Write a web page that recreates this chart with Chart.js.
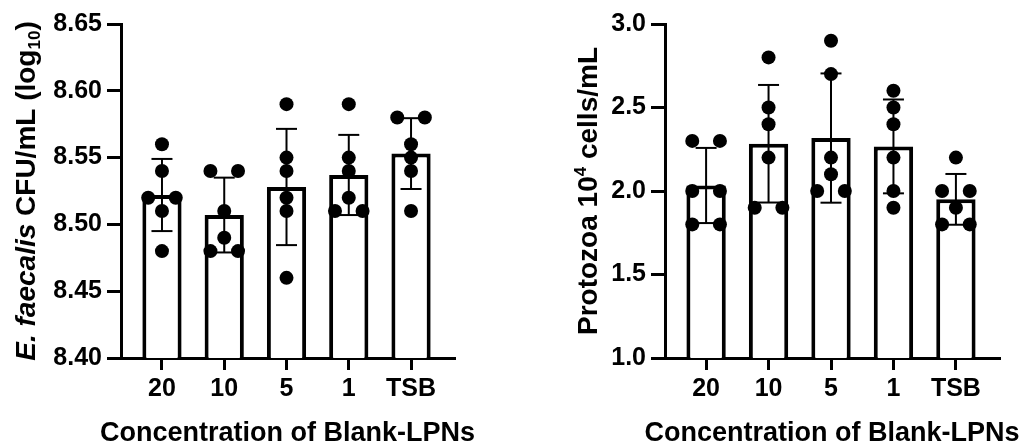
<!DOCTYPE html>
<html><head><meta charset="utf-8">
<script src="https://cdn.jsdelivr.net/npm/chart.js@4.4.1/dist/chart.umd.min.js"></script>
<style>
html,body{margin:0;padding:0;background:#fff;}
#wrap{position:relative;width:1022px;height:444px;overflow:hidden;}
.box{position:absolute;top:0;width:511px;height:444px;}
</style></head><body>
<div id="wrap">
<div class="box" style="left:0"><canvas id="c1" width="511" height="444"></canvas></div>
<div class="box" style="left:511px"><canvas id="c2" width="511" height="444"></canvas></div>
</div>
<script>
// ---------- data ----------
const categories = ['20', '10', '5', '1', 'TSB'];

const efMeans = [8.522, 8.507, 8.528, 8.537, 8.553];
const efSD    = [0.027, 0.028, 0.0435, 0.030, 0.0265];
const efPoints = [
  [8.56, 8.54, 8.52, 8.52, 8.51, 8.48],
  [8.54, 8.54, 8.51, 8.49, 8.48, 8.48],
  [8.59, 8.55, 8.54, 8.52, 8.51, 8.46],
  [8.59, 8.55, 8.54, 8.52, 8.51, 8.51],
  [8.58, 8.58, 8.56, 8.55, 8.54, 8.51]
];
const efTicks = [8.40, 8.45, 8.50, 8.55, 8.60, 8.65];

const protoMeans = [2.033, 2.283, 2.317, 2.267, 1.95];
const protoSD    = [0.225, 0.352, 0.387, 0.281, 0.152];
const protoPoints = [
  [2.3, 2.3, 2.0, 2.0, 1.8, 1.8],
  [2.8, 2.5, 2.4, 2.2, 1.9, 1.9],
  [2.9, 2.7, 2.2, 2.1, 2.0, 2.0],
  [2.6, 2.5, 2.4, 2.2, 2.0, 1.9],
  [2.2, 2.0, 2.0, 1.9, 1.8, 1.8]
];
const protoTicks = [1.0, 1.5, 2.0, 2.5, 3.0];

const xTitle = 'Concentration of Blank-LPNs';

// ---------- helpers ----------
const FAM = '"Liberation Sans", Arial, Helvetica, sans-serif';
const SPREAD = 0.2215; // horizontal spread of tied points, in category units

function spreadDots(points) {
  const out = [];
  points.forEach((vals, i) => {
    const counts = {}, seen = {};
    vals.forEach(v => counts[v] = (counts[v] || 0) + 1);
    vals.forEach(v => {
      const k = counts[v], j = seen[v] || 0;
      seen[v] = j + 1;
      const off = k === 1 ? 0 : (j - (k - 1) / 2) * 2 * SPREAD;
      out.push({x: i + off, y: v});
    });
  });
  return out;
}

// axis titles drawn as canvas text (mixed italic / sub- / superscript)
function titlesPlugin(yX, yParts, xBaseline, xText) {
  return {
    id: 'axisTitles',
    afterDraw(chart) {
      const ctx = chart.ctx, a = chart.chartArea;
      ctx.save();
      ctx.fillStyle = '#000';
      ctx.textBaseline = 'alphabetic';
      // x title
      ctx.textAlign = 'center';
      ctx.font = 'bold 27px ' + FAM;
      ctx.fillText(xText, (a.left + a.right) / 2, xBaseline);
      // y title
      ctx.textAlign = 'left';
      ctx.translate(yX, (a.top + a.bottom) / 2);
      ctx.rotate(-Math.PI / 2);
      const widths = yParts.map(p => { ctx.font = p.font; return ctx.measureText(p.text).width; });
      let cur = -widths.reduce((s, w) => s + w, 0) / 2;
      yParts.forEach((p, i) => { ctx.font = p.font; ctx.fillText(p.text, cur, p.dy || 0); cur += widths[i]; });
      ctx.restore();
    }
  };
}

function makeChart(id, means, sd, points, ticks, dec, yWidth, padRight, plugin) {
  const dots = spreadDots(points);
  const caps = [];
  means.forEach((m, i) => { caps.push({x: i, y: m + sd[i]}); caps.push({x: i, y: m - sd[i]}); });
  const errs = means.map((m, i) => ({x: i, y: [m - sd[i], m + sd[i]]}));
  const bars = means.map((m, i) => ({x: i, y: m}));

  return new Chart(document.getElementById(id), {
    type: 'bar',
    data: {
      datasets: [
        {type: 'scatter', data: dots, pointRadius: 7, pointHoverRadius: 7,
         backgroundColor: '#000', borderColor: '#000', borderWidth: 0, order: 0},
        {type: 'scatter', data: caps, pointStyle: 'line', pointRadius: 10.5, pointHoverRadius: 10.5,
         borderColor: '#000', borderWidth: 2, order: 1},
        {type: 'bar', data: errs, grouped: false, maxBarThickness: 2,
         backgroundColor: '#000', borderWidth: 0, order: 2},
        {type: 'bar', data: bars, grouped: false, barPercentage: 0.63, categoryPercentage: 1,
         backgroundColor: '#fff', borderColor: '#000', borderWidth: 4, order: 3}
      ]
    },
    options: {
      responsive: false,
      animation: false,
      devicePixelRatio: 1,
      events: [],
      layout: {padding: {left: 0, right: padRight, top: 24, bottom: 0}},
      plugins: {legend: {display: false}, tooltip: {enabled: false}},
      scales: {
        x: {
          type: 'linear', min: -0.658, max: 4.69, offset: false, z: 1,
          afterBuildTicks: s => { s.ticks = categories.map((c, i) => ({value: i})); },
          afterFit: s => { s.height = 86; },
          ticks: {callback: v => categories[v], autoSkip: false, maxRotation: 0,
                  font: {family: FAM, weight: 'bold', size: 25}, color: '#000', padding: 4},
          grid: {drawOnChartArea: false, drawTicks: true, tickLength: 12, color: '#000', lineWidth: 3, offset: false},
          border: {display: true, color: '#000', width: 3},
          title: {display: false}
        },
        y: {
          min: ticks[0], max: ticks[ticks.length - 1], z: 1,
          afterBuildTicks: s => { s.ticks = ticks.map(v => ({value: v})); },
          afterFit: s => { s.width = yWidth; },
          ticks: {callback: v => Number(v).toFixed(dec),
                  font: {family: FAM, weight: 'bold', size: 25}, color: '#000', padding: 5},
          grid: {drawOnChartArea: false, drawTicks: true, tickLength: 14, color: '#000', lineWidth: 3},
          border: {display: true, color: '#000', width: 3}
        }
      }
    },
    plugins: [plugin]
  });
}

const B28 = 'bold 28px ' + FAM;
makeChart('c1', efMeans, efSD, efPoints, efTicks, 2, 121, 57,
  titlesPlugin(35, [
    {text: 'E. faecalis', font: 'italic bold 28px ' + FAM},
    {text: ' CFU/mL (log', font: B28},
    {text: '10', font: 'bold 17px ' + FAM, dy: 5},
    {text: ')', font: B28}
  ], 441, xTitle));

makeChart('c2', protoMeans, protoSD, protoPoints, protoTicks, 1, 154, 23,
  titlesPlugin(86, [
    {text: 'Protozoa 10', font: B28},
    {text: '4', font: 'bold 17px ' + FAM, dy: -11},
    {text: ' cells/mL', font: B28}
  ], 441, xTitle));
</script>
</body></html>
